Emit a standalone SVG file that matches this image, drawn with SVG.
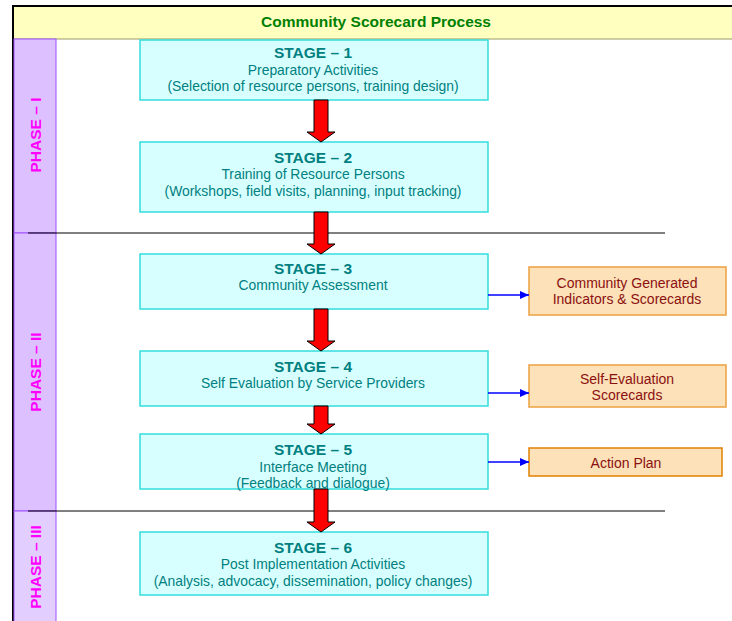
<svg xmlns="http://www.w3.org/2000/svg" width="732" height="621" viewBox="0 0 732 621">
<style>
.stage rect{fill:#D8FFFF;stroke:#33DDDD;stroke-width:1.5}
.st{font-family:"Liberation Sans",Arial,sans-serif;font-weight:bold;font-size:15.5px;fill:#008080;text-anchor:middle}
.sb{font-family:"Liberation Sans",Arial,sans-serif;font-size:13.9px;fill:#008080;text-anchor:middle}
.out rect{fill:#FDE1B8;stroke:#EBA040;stroke-width:1.5}
.ot{font-family:"Liberation Sans",Arial,sans-serif;font-size:14px;fill:#8B1010;text-anchor:middle}
.ph{font-family:"Liberation Sans",Arial,sans-serif;font-weight:bold;font-size:15.5px;fill:#FF00FF;text-anchor:middle}
.red{fill:#FF0000;stroke:#000;stroke-width:1}
.blue{stroke:#0000FF;stroke-width:1.5;fill:none}
</style>
<defs>
<marker id="bh" markerWidth="10" markerHeight="10" refX="9" refY="5" orient="auto" markerUnits="userSpaceOnUse">
<path d="M0,1 L9,5 L0,9 Z" fill="#0000FF"/>
</marker>
</defs>
<rect x="0" y="0" width="732" height="621" fill="#FFFFFF"/>
<g id="header">
<rect x="13" y="6" width="721" height="33" fill="#FFFFC0" stroke="#999966" stroke-width="1"/>
<line x1="12" y1="6" x2="732" y2="6" stroke="#000" stroke-width="2"/>
<text x="376" y="27" font-family="Liberation Sans,Arial,sans-serif" font-weight="bold" font-size="15.5" fill="#008000" text-anchor="middle">Community Scorecard Process</text>
</g>
<line x1="13" y1="6" x2="13" y2="621" stroke="#000" stroke-width="2"/>
<g id="phase1">
<rect x="14" y="39" width="42" height="194" fill="#DCC0FF" stroke="#A050FF" stroke-width="1"/>
<text class="ph" transform="translate(41,135) rotate(-90)">PHASE – I</text>
</g>
<g id="phase2">
<rect x="14" y="233" width="42" height="278" fill="#DCC0FF" stroke="#A050FF" stroke-width="1"/>
<text class="ph" transform="translate(41,372) rotate(-90)">PHASE – II</text>
</g>
<g id="phase3">
<rect x="14" y="511" width="42" height="112" fill="#E2CFFF" stroke="#A050FF" stroke-width="1"/>
<text class="ph" transform="translate(41,567) rotate(-90)">PHASE – III</text>
</g>
<line x1="28" y1="233" x2="665" y2="233" stroke="#000" stroke-width="1"/>
<line x1="28" y1="511" x2="665" y2="511" stroke="#000" stroke-width="1"/>
<g id="stage1" class="stage">
<rect x="140" y="40" width="348" height="60"/>
<text class="st" x="313" y="58">STAGE – 1</text>
<text class="sb" x="313" y="75">Preparatory Activities</text>
<text class="sb" x="313" y="91">(Selection of resource persons, training design)</text>
</g>
<g id="stage2" class="stage">
<rect x="140" y="142" width="348" height="70"/>
<text class="st" x="313" y="163">STAGE – 2</text>
<text class="sb" x="313" y="179">Training of Resource Persons</text>
<text class="sb" x="313" y="196">(Workshops, field visits, planning, input tracking)</text>
</g>
<g id="stage3" class="stage">
<rect x="140" y="254" width="348" height="55"/>
<text class="st" x="313" y="274">STAGE – 3</text>
<text class="sb" x="313" y="290">Community Assessment</text>
</g>
<g id="stage4" class="stage">
<rect x="140" y="351" width="348" height="55"/>
<text class="st" x="313" y="372">STAGE – 4</text>
<text class="sb" x="313" y="388">Self Evaluation by Service Providers</text>
</g>
<g id="stage5" class="stage">
<rect x="140" y="434" width="348" height="55"/>
<text class="st" x="313" y="455">STAGE – 5</text>
<text class="sb" x="313" y="472">Interface Meeting</text>
<text class="sb" x="313" y="488">(Feedback and dialogue)</text>
</g>
<g id="stage6" class="stage">
<rect x="140" y="532" width="348" height="63"/>
<text class="st" x="313" y="553">STAGE – 6</text>
<text class="sb" x="313" y="569">Post Implementation Activities</text>
<text class="sb" x="313" y="586">(Analysis, advocacy, dissemination, policy changes)</text>
</g>
<g id="out1" class="out">
<rect x="529" y="267" width="197" height="48"/>
<text class="ot" x="627" y="288">Community Generated</text>
<text class="ot" x="627" y="304">Indicators &amp; Scorecards</text>
</g>
<g id="out2" class="out">
<rect x="529" y="365" width="197" height="42"/>
<text class="ot" x="627" y="384">Self-Evaluation</text>
<text class="ot" x="627" y="400">Scorecards</text>
</g>
<g id="out3" class="out">
<rect x="529" y="448" width="193" height="28" style="stroke:#E08000"/>
<text class="ot" x="626" y="468">Action Plan</text>
</g>
<g id="connectors">
<path class="red" d="M314,100 L328,100 L328,132 L335,132 L321,142 L307,132 L314,132 Z"/>
<path class="red" d="M314,212 L328,212 L328,244 L335,244 L321,254 L307,244 L314,244 Z"/>
<path class="red" d="M314,309 L328,309 L328,341 L335,341 L321,351 L307,341 L314,341 Z"/>
<path class="red" d="M314,406 L328,406 L328,424 L335,424 L321,434 L307,424 L314,424 Z"/>
<path class="red" d="M314,489 L328,489 L328,522 L335,522 L321,532 L307,522 L314,522 Z"/>
<line class="blue" x1="488" y1="295" x2="529" y2="295" marker-end="url(#bh)"/>
<line class="blue" x1="488" y1="393" x2="529" y2="393" marker-end="url(#bh)"/>
<line class="blue" x1="488" y1="462" x2="529" y2="462" marker-end="url(#bh)"/>
</g>
</svg>
